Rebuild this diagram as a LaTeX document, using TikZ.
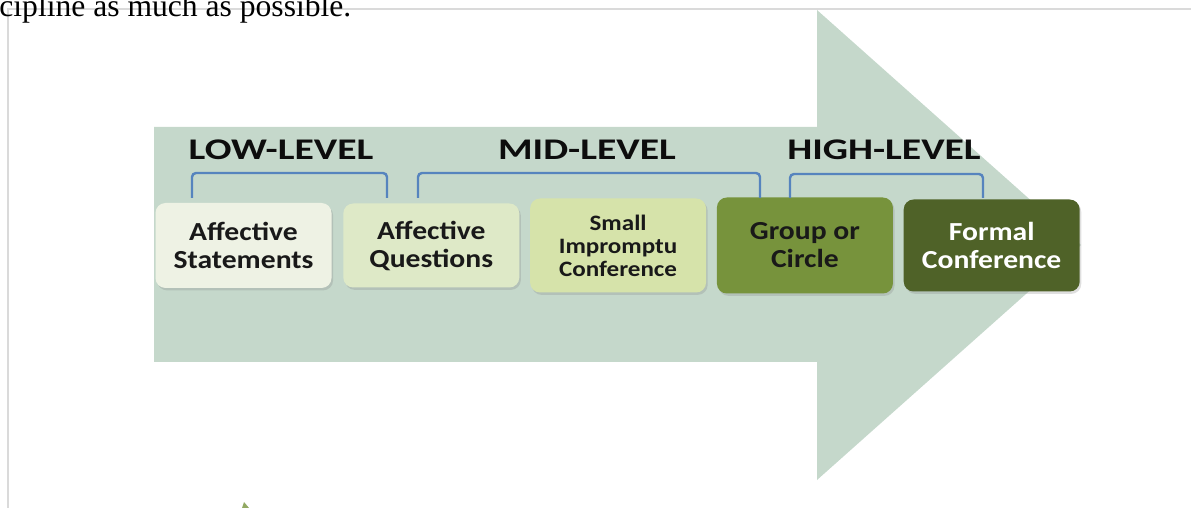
\documentclass[tikz,border=0pt]{standalone}
\usepackage{fontspec}
\setmainfont{Liberation Serif}
\newfontfamily\boxfont{Carlito}[FakeStretch=1.14]
\newfontfamily\hdrfont{Carlito}[FakeStretch=1.32]
\usetikzlibrary{positioning,shadows}

\definecolor{arrowfill}{RGB}{197,216,203}
\definecolor{framegray}{RGB}{218,218,218}
\definecolor{bracketblue}{RGB}{86,132,190}
\definecolor{lvlone}{RGB}{238,242,228}
\definecolor{lvltwo}{RGB}{222,233,199}
\definecolor{lvlthree}{RGB}{214,227,170}
\definecolor{lvlfour}{RGB}{119,147,60}
\definecolor{lvlfive}{RGB}{79,98,40}

\tikzset{
  stage/.style={rounded corners=5pt, minimum width=88pt, align=center,
    font=\boxfont\bfseries\fontsize{13}{14}\selectfont, text=black!90,
    drop shadow={shadow xshift=0.8pt, shadow yshift=-1.2pt, opacity=0.25}},
  level/.style={anchor=base, font=\hdrfont\bfseries\fontsize{15}{18}\selectfont, text=black!95},
  bracket/.style={draw=bracketblue, line width=1.2pt, rounded corners=2pt}
}

\begin{document}
\begin{tikzpicture}[x=0.5pt,y=-0.5pt]
    \useasboundingbox (0,0) rectangle (1191,508);
    \clip (0,0) rectangle (1191,508);

    % Draw page frame and text above it
    \draw[framegray, line width=0.9pt] (8,508) -- (8,9) -- (1191,9);
    \node[anchor=base west, inner sep=0pt, font=\fontsize{15.8}{18}\selectfont] (prev) at (-1,16.5) {cipline as much as possible.};

    % Draw big arrow
    \fill[arrowfill] (154,127) -- (817,127) -- (817,10) -- (1081,245) -- (817,480) -- (817,362) -- (154,362) -- cycle;

    % Draw stages
    \node[stage, fill=lvlone, minimum height=42.5pt] (stmt) at (243.5,245.5) {Affective\\Statements};
    \node[stage, fill=lvltwo, minimum height=42pt, right=5.5pt of stmt] (ques) {Affective\\Questions};
    \node[stage, fill=lvlthree, minimum height=47pt, right=5pt of ques,
      font=\boxfont\bfseries\fontsize{11}{11.5}\selectfont] (conf) {Small\\Impromptu\\Conference};
    \node[stage, fill=lvlfour, minimum height=48pt, right=5pt of conf] (circ) {Group or\\Circle};
    \node[stage, fill=lvlfive, text=white, minimum height=46pt, right=5pt of circ] (formal) {Formal\\Conference};

    % Draw level headings
    \node[level] (low) at (281,160) {LOW-LEVEL};
    \node[level] (mid) at (587,160) {MID-LEVEL};
    \node[level] (high) at (884,160) {HIGH-LEVEL};

    % Draw brackets
    \coordinate (lowL) at (192,198);
    \coordinate (lowR) at (387,198);
    \coordinate (midL) at (418,198);
    \coordinate (midR) at (760,198);
    \coordinate (highL) at (790,198);
    \coordinate (highR) at (983,198);
    \draw[bracket] (lowL) -- ++(0,-25) -| (lowR);
    \draw[bracket] (midL) -- ++(0,-25) -| (midR);
    \draw[bracket] (highL) -- ++(0,-24) -| (highR);

    % bit of icon at the bottom
    \fill[lvlfour!80] (242,508) -- (244,502) -- (249,508) -- cycle;
\end{tikzpicture}
\end{document}
